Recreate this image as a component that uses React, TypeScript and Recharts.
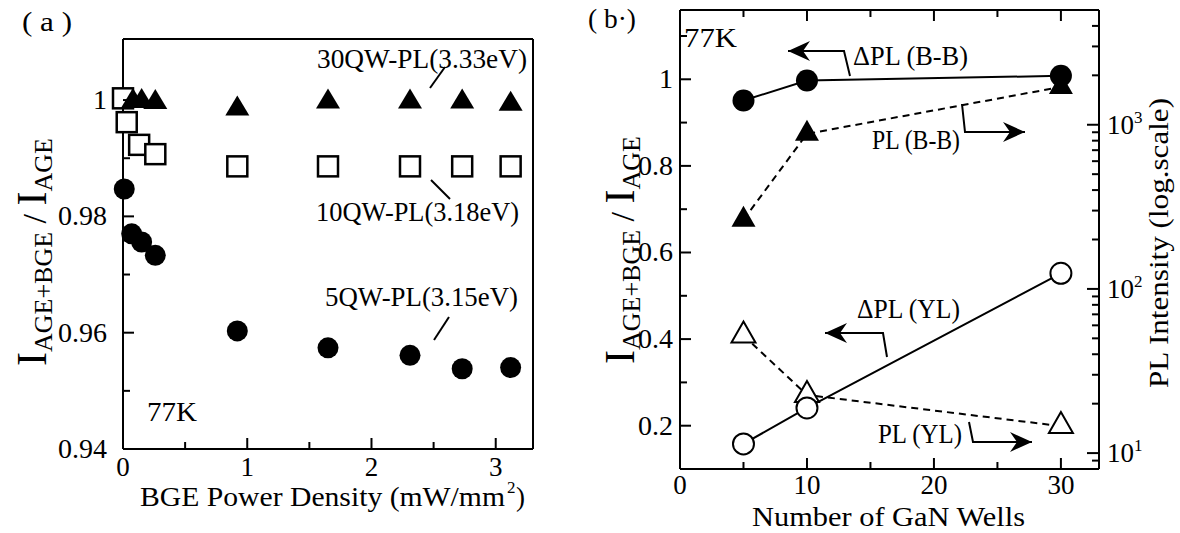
import React from "react";
import { ScatterChart, Scatter, ComposedChart, Line, XAxis, YAxis } from "recharts";

const FONT = '"Liberation Serif", "Times New Roman", Times, serif';
const AX = { stroke: "#000", strokeWidth: 2 };

// ---- panel (a): ratio vs BGE power density ----
const powerTicks = [0, 0.5, 1, 1.5, 2, 2.5, 3];
const powerLabels = ["0", "", "1", "", "2", "", "3"];
const ratioTicksA = [0.94, 0.95, 0.96, 0.97, 0.98, 0.99, 1];
const ratioLabelsA = ["0.94", "", "0.96", "", "0.98", "", "1"];

const qw30Power = [0.08, 0.15, 0.26, 0.92, 1.65, 2.31, 2.73, 3.12];
const qw30Ratio = [0.9998, 0.9998, 0.9996, 0.9985, 0.9997, 0.9997, 0.9997, 0.9993];
const qw10Power = [0.0, 0.03, 0.13, 0.26, 0.92, 1.65, 2.31, 2.73, 3.12];
const qw10Ratio = [1.0003, 0.9962, 0.9923, 0.9907, 0.9886, 0.9886, 0.9886, 0.9886, 0.9886];
const qw5Power = [0.01, 0.07, 0.15, 0.26, 0.92, 1.65, 2.31, 2.73, 3.12];
const qw5Ratio = [0.9847, 0.977, 0.9756, 0.9733, 0.9603, 0.9574, 0.9561, 0.9538, 0.954];

// ---- panel (b): vs number of GaN wells ----
const wellTicks = [0, 5, 10, 15, 20, 25, 30];
const wellLabels = ["0", "", "10", "", "20", "", "30"];
const ratioTicksB = [0.2, 0.3, 0.4, 0.5, 0.6, 0.7, 0.8, 0.9, 1, 1.1];
const ratioLabelsB = ["0.2", "", "0.4", "", "0.6", "", "0.8", "", "1", ""];
const plTicks = [9, 10, 20, 30, 40, 50, 60, 70, 80, 90, 100, 200, 300, 400, 500, 600, 700, 800, 900, 1000, 2000, 3000, 4000];
const plMajor = [10, 100, 1000];
const plExp = ["1", "2", "3"];

const wells = [5, 10, 30];
const deltaBB = [0.951, 0.997, 1.008];
const plBB = [264, 880, 1700];
const deltaYL = [0.158, 0.241, 0.552];
const plYL = [52, 22.6, 14.6];

const zip = (xs: number[], ys: number[]) => xs.map((x, i) => ({ x, y: ys[i] }));
const wellRows = wells.map((n, i) => ({ n, dBB: deltaBB[i], pBB: plBB[i], dYL: deltaYL[i], pYL: plYL[i] }));

const tri = (cx: number, cy: number, w: number, h: number) =>
  `M${cx},${cy - (2 * h) / 3} L${cx + w / 2},${cy + h / 3} L${cx - w / 2},${cy + h / 3} Z`;

const idx = (ticks: number[], v: number) => ticks.findIndex((t) => Math.abs(t - v) < 1e-9);

// inward ticks drawn from the axis line, with optional label outside
function makeTick(side: string, ticks: number[], labels: string[], fs: number, off: number) {
  return (p: any) => {
    const { x, y, payload } = p;
    const i = idx(ticks, payload.value);
    const lbl = i >= 0 ? labels[i] : "";
    const len = lbl ? 11 : 7;
    let line: any = null;
    let text: any = null;
    if (side === "bottom") {
      line = <line x1={x} y1={y} x2={x} y2={y - len} stroke="#000" strokeWidth={2} />;
      if (lbl) text = <text x={x} y={y + off} textAnchor="middle" fontSize={fs} fontFamily={FONT}>{lbl}</text>;
    } else if (side === "top") {
      line = <line x1={x} y1={y} x2={x} y2={y + len} stroke="#000" strokeWidth={2} />;
    } else if (side === "left") {
      line = <line x1={x} y1={y} x2={x + len} y2={y} stroke="#000" strokeWidth={2} />;
      if (lbl) text = <text x={x - off} y={y + 9} textAnchor="end" fontSize={fs} fontFamily={FONT}>{lbl}</text>;
    } else {
      line = <line x1={x} y1={y} x2={x - len} y2={y} stroke="#000" strokeWidth={2} />;
    }
    return <g>{line}{text}</g>;
  };
}

function logTick(p: any) {
  const { x, y, payload } = p;
  const m = plMajor.indexOf(payload.value);
  const len = m >= 0 ? 12 : 7;
  return (
    <g>
      <line x1={x} y1={y} x2={x - len} y2={y} stroke="#000" strokeWidth={2} />
      {m >= 0 && (
        <text x={x + 8} y={y + 9} fontSize={27} fontFamily={FONT}>
          10<tspan dy={-11} fontSize={17}>{plExp[m]}</tspan>
        </text>
      )}
    </g>
  );
}

// axes are 1px wide/high so they still render; margins carry the layout
const axisCommon = { type: "number" as const, interval: 0 as const, tickSize: 0, tickMargin: 0, tickLine: false, axisLine: AX };

function PanelA() {
  return (
    <ScatterChart width={590} height={533} margin={{ top: 38, right: 56, bottom: 83, left: 122 }}>
      <XAxis xAxisId="b" dataKey="x" domain={[0, 3.3]} ticks={powerTicks} height={1} tick={makeTick("bottom", powerTicks, powerLabels, 27, 27)} {...axisCommon} />
      <XAxis xAxisId="t" orientation="top" dataKey="x" domain={[0, 3.3]} ticks={powerTicks} height={1} tick={makeTick("top", powerTicks, powerLabels, 27, 0)} {...axisCommon} />
      <YAxis yAxisId="l" dataKey="y" domain={[0.94, 1.0105]} ticks={ratioTicksA} width={1} tick={makeTick("left", ratioTicksA, ratioLabelsA, 28, 16)} {...axisCommon} />
      <YAxis yAxisId="r" orientation="right" dataKey="y" domain={[0.94, 1.0105]} ticks={ratioTicksA} width={1} tick={makeTick("right", ratioTicksA, ratioLabelsA, 28, 0)} {...axisCommon} />
      <Scatter xAxisId="b" yAxisId="l" data={zip(qw5Power, qw5Ratio)} isAnimationActive={false}
        shape={(p: any) => <circle cx={p.cx} cy={p.cy} r={10.5} fill="#000" />} />
      <Scatter xAxisId="b" yAxisId="l" data={zip(qw10Power, qw10Ratio)} isAnimationActive={false}
        shape={(p: any) => <rect x={p.cx - 10} y={p.cy - 10} width={20} height={20} fill="#fff" stroke="#000" strokeWidth={2.5} />} />
      <Scatter xAxisId="b" yAxisId="l" data={zip(qw30Power, qw30Ratio)} isAnimationActive={false}
        shape={(p: any) => <path d={tri(p.cx, p.cy, 24, 20)} fill="#000" />} />
    </ScatterChart>
  );
}

function PanelB() {
  return (
    <ComposedChart width={590} height={533} data={wellRows} margin={{ top: 9, right: 80, bottom: 63, left: 89 }}>
      <XAxis dataKey="n" domain={[0, 33]} ticks={wellTicks} height={1} tick={makeTick("bottom", wellTicks, wellLabels, 27, 25)} {...axisCommon} />
      <XAxis xAxisId="t" orientation="top" dataKey="n" domain={[0, 33]} ticks={wellTicks} height={1} tick={makeTick("top", wellTicks, wellLabels, 27, 0)} {...axisCommon} />
      <YAxis yAxisId="l" domain={[0.1, 1.16]} ticks={ratioTicksB} width={1} tick={makeTick("left", ratioTicksB, ratioLabelsB, 28, 7)} {...axisCommon} />
      <YAxis yAxisId="r" orientation="right" scale="log" domain={[8, 5000]} ticks={plTicks} width={1} tick={logTick} {...axisCommon} />
      <Line yAxisId="r" dataKey="pYL" stroke="#000" strokeWidth={2} strokeDasharray="7 5" activeDot={false} isAnimationActive={false}
        dot={(p: any) => <path key={"ty" + p.index} d={tri(p.cx, p.cy, 24, 21)} fill="#fff" stroke="#000" strokeWidth={2} />} />
      <Line yAxisId="r" dataKey="pBB" stroke="#000" strokeWidth={2} strokeDasharray="7 5" activeDot={false} isAnimationActive={false}
        dot={(p: any) => <path key={"tb" + p.index} d={tri(p.cx, p.cy, 24, 21)} fill="#000" />} />
      <Line yAxisId="l" dataKey="dYL" stroke="#000" strokeWidth={2} activeDot={false} isAnimationActive={false}
        dot={(p: any) => <circle key={"cy" + p.index} cx={p.cx} cy={p.cy} r={10.5} fill="#fff" stroke="#000" strokeWidth={2} />} />
      <Line yAxisId="l" dataKey="dBB" stroke="#000" strokeWidth={2} activeDot={false} isAnimationActive={false}
        dot={(p: any) => <circle key={"cb" + p.index} cx={p.cx} cy={p.cy} r={11} fill="#000" />} />
    </ComposedChart>
  );
}

function Arrow({ pts, dir }: { pts: number[][]; dir: number }) {
  const [tx, ty] = pts[pts.length - 1];
  const head = `M${tx},${ty} L${tx - dir * 22},${ty - 10} L${tx - dir * 15},${ty} L${tx - dir * 22},${ty + 10} Z`;
  return (
    <g>
      <polyline points={pts.map((q) => q.join(",")).join(" ")} fill="none" stroke="#000" strokeWidth={2} />
      <path d={head} fill="#000" />
    </g>
  );
}

function T({ x, y, w, fs = 28, children }: any) {
  return (
    <text x={x} y={y} fontSize={fs} fontFamily={FONT} textLength={w} lengthAdjust="spacingAndGlyphs">
      {children}
    </text>
  );
}

function Overlay() {
  return (
    <svg width={1180} height={533} style={{ position: "absolute", left: 0, top: 0, pointerEvents: "none" }}>
      {/* panel (a) */}
      <T x={22} y={31} w={50}>( a )</T>
      <T x={317} y={68} w={210}>30QW-PL(3.33eV)</T>
      <T x={316} y={221} w={203}>10QW-PL(3.18eV)</T>
      <T x={325} y={306} w={193}>5QW-PL(3.15eV)</T>
      <T x={147} y={421} w={50}>77K</T>
      <line x1={430} y1={88} x2={445} y2={67} stroke="#000" strokeWidth={2} />
      <line x1={431} y1={180} x2={450} y2={199} stroke="#000" strokeWidth={2} />
      <line x1={434} y1={340} x2={449} y2={317} stroke="#000" strokeWidth={2} />
      <T x={140} y={506} w={365}>BGE Power Density (mW/mm</T>
      <text x={507} y={493} fontSize={17} fontFamily={FONT}>2</text>
      <text x={516} y={506} fontSize={27} fontFamily={FONT}>)</text>
      <text transform="rotate(-90 46 252)" x={46} y={252} textAnchor="middle" fontFamily={FONT}>
        <tspan fontSize={42}>I</tspan>
        <tspan fontSize={26} dy={6}>AGE+BGE</tspan>
        <tspan fontSize={34} dy={-6}> / </tspan>
        <tspan fontSize={42}>I</tspan>
        <tspan fontSize={26} dy={6}>AGE</tspan>
      </text>

      {/* panel (b) */}
      <T x={588} y={28} w={48}>( b·)</T>
      <T x={684} y={47} w={53}>77K</T>
      <T x={853} y={65} w={115}>ΔPL (B-B)</T>
      <T x={872} y={149} w={88}>PL (B-B)</T>
      <T x={857} y={318} w={103}>ΔPL (YL)</T>
      <T x={878} y={443} w={84}>PL (YL)</T>
      <Arrow pts={[[850, 76], [844, 51], [788, 51]]} dir={-1} />
      <Arrow pts={[[962, 104], [965, 132], [1025, 132]]} dir={1} />
      <Arrow pts={[[887, 357], [883, 333], [825, 333]]} dir={-1} />
      <Arrow pts={[[969, 422], [973, 442], [1032, 442]]} dir={1} />
      <T x={752} y={526} w={273}>Number of GaN Wells</T>
      <text transform="rotate(-90 634 250)" x={634} y={250} textAnchor="middle" fontFamily={FONT}>
        <tspan fontSize={42}>I</tspan>
        <tspan fontSize={26} dy={6}>AGE+BGE</tspan>
        <tspan fontSize={34} dy={-6}> / </tspan>
        <tspan fontSize={42}>I</tspan>
        <tspan fontSize={26} dy={6}>AGE</tspan>
      </text>
      <text transform="rotate(-90 1168 243)" x={1168} y={243} textAnchor="middle" fontSize={28} fontFamily={FONT}
        textLength={290} lengthAdjust="spacingAndGlyphs">
        PL Intensity (log.scale)
      </text>
    </svg>
  );
}

export default function App() {
  return (
    <div style={{ position: "absolute", left: 0, top: 0, width: 1180, height: 533, background: "#fff", fontFamily: FONT }}>
      <div style={{ position: "absolute", left: 0, top: 0 }}>
        <PanelA />
      </div>
      <div style={{ position: "absolute", left: 590, top: 0 }}>
        <PanelB />
      </div>
      <Overlay />
    </div>
  );
}
